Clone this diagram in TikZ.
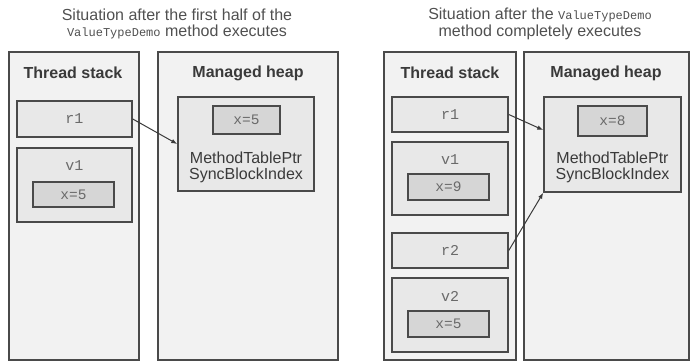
\documentclass[tikz,border=0pt]{standalone}
\usepackage{fontspec}
\setmainfont{Liberation Sans}
\setmonofont{Liberation Mono}
\usetikzlibrary{calc,arrows.meta}
\definecolor{panelfill}{HTML}{F2F2F2}
\definecolor{boxfill}{HTML}{E8E8E8}
\definecolor{innerfill}{HTML}{D6D6D6}
\definecolor{edge}{HTML}{4A4A4A}
\definecolor{txt}{HTML}{3A3A3A}
\definecolor{titletxt}{HTML}{505050}
\definecolor{softtxt}{HTML}{6A6A6A}
\tikzset{
  panel/.style={draw=edge, line width=1.6pt, fill=panelfill, inner sep=0pt},
  cell/.style={draw=edge, line width=1.5pt, fill=boxfill, inner sep=0pt},
  valbox/.style={draw=edge, line width=1.4pt, fill=innerfill, inner sep=0pt,
    font=\ttfamily\fontsize{14.5}{16}\selectfont, text=softtxt},
  ttlabel/.style={font=\ttfamily\fontsize{15}{17}\selectfont, text=softtxt},
  heading/.style={font=\bfseries\fontsize{16}{18}\selectfont, text=txt},
  title/.style={font=\fontsize{16}{16.5}\selectfont, text=titletxt, align=center},
  objtext/.style={font=\fontsize{16}{17}\selectfont, text=txt, inner sep=0pt},
  ptr/.style={draw=txt, line width=1pt, -{Latex[length=6pt,width=4.5pt]}}
}
\begin{document}
\begin{tikzpicture}[x=1pt,y=-1pt]
\useasboundingbox (0,0) rectangle (693,363);
% ---------- left situation ----------
\node[title] (t1) at (177,24) {Situation after the first half of the\\
  {\ttfamily\fontsize{12}{14}\selectfont ValueTypeDemo} method executes};
\node[panel, minimum width=130, minimum height=308] (ts1) at (74,206) {};
\node[panel, minimum width=180, minimum height=308] (mh1) at (248,206) {};
\node[heading] (ts1h) at (73,73) {Thread stack};
\node[heading] (mh1h) at (248,73) {Managed heap};
\node[cell, minimum width=115, minimum height=36] (r1a) at (74.5,119) {};
\node[ttlabel] (r1al) at (r1a) {r1};
\node[cell, minimum width=115, minimum height=74] (v1a) at (74.5,185) {};
\node[ttlabel] (v1al) at (74.5,166) {v1};
\node[valbox, minimum width=81, minimum height=25] (x1a) at (73.5,194.5) {x=5};
\node[cell, minimum width=136, minimum height=94] (obj1) at (246,144) {};
\node[valbox, minimum width=67, minimum height=28] (x1o) at (246.5,120) {x=5};
\node[objtext] (o1a) at (246,158) {MethodTablePtr};
\node[objtext] (o1b) at (246,175.5) {SyncBlockIndex};
\draw[ptr] (r1a.east) -- (obj1.west);
% ---------- right situation ----------
\node[title] (t2) at (540,24) {Situation after the
  {\ttfamily\fontsize{12}{14}\selectfont ValueTypeDemo}\\ method completely executes};
\node[panel, minimum width=132, minimum height=308] (ts2) at (450,206) {};
\node[panel, minimum width=165, minimum height=308] (mh2) at (606.5,206) {};
\node[heading] (ts2h) at (450,73) {Thread stack};
\node[heading] (mh2h) at (606,73) {Managed heap};
\node[cell, minimum width=116, minimum height=35] (r1b) at (450,114.5) {};
\node[ttlabel] (r1bl) at (r1b) {r1};
\node[cell, minimum width=116, minimum height=73] (v1b) at (450,178.5) {};
\node[ttlabel] (v1bl) at (450,160) {v1};
\node[valbox, minimum width=81, minimum height=26] (x1b) at (448.5,187) {x=9};
\node[cell, minimum width=116, minimum height=35] (r2b) at (450,250.5) {};
\node[ttlabel] (r2bl) at (r2b) {r2};
\node[cell, minimum width=116, minimum height=74] (v2b) at (450,315) {};
\node[ttlabel] (v2bl) at (450,296) {v2};
\node[valbox, minimum width=81, minimum height=26] (x2b) at (448.5,324) {x=5};
\node[cell, minimum width=137, minimum height=95] (obj2) at (612.5,144.5) {};
\node[valbox, minimum width=69, minimum height=30] (x8) at (612.5,121) {x=8};
\node[objtext] (o2a) at (612.5,158) {MethodTablePtr};
\node[objtext] (o2b) at (612.5,175.5) {SyncBlockIndex};
\coordinate (obj2in) at ($(obj2.north west)!0.35!(obj2.south west)$);
\draw[ptr] (r1b.east) -- (obj2in);
\draw[ptr] (r2b.east) -- (obj2.south west);
\end{tikzpicture}
\end{document}
